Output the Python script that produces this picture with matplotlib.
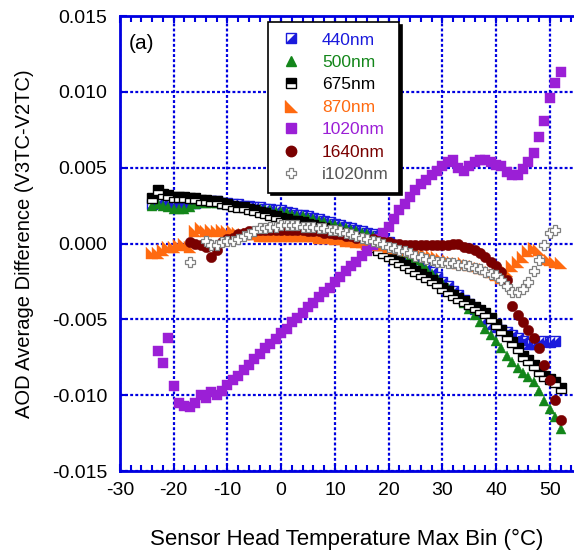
import numpy as np
import matplotlib
matplotlib.use("Agg")
import matplotlib.pyplot as plt
from matplotlib.lines import Line2D
from matplotlib.legend_handler import HandlerTuple
from matplotlib.ticker import MultipleLocator, FormatStrFormatter

plt.rcParams['font.family'] = ['Liberation Sans', 'DejaVu Sans']
plt.rcParams['axes.unicode_minus'] = False

# temperature bins (deg C) for each wavelength
t_440 = list(range(-24, 52))
t_500 = list(range(-24, 53))
t_675 = list(range(-24, 53))
t_870 = list(range(-24, 53))
t_1020 = list(range(-23, 53))
t_1640 = list(range(-17, 53))
t_i1020 = [-17] + list(range(-14, 52))

# AOD differences, in units of 0.001
d_440 = [2.6, 2.7, 2.7, 2.7, 2.7, 2.7, 2.7, 2.7, 2.7, 2.8,
         2.8, 2.8, 2.8, 2.7, 2.7, 2.6, 2.6, 2.5, 2.5, 2.4,
         2.4, 2.3, 2.3, 2.2, 2.2, 2.1, 2.0, 1.9, 1.9, 1.8,
         1.7, 1.6, 1.5, 1.4, 1.3, 1.2, 1.1, 1.0, 0.9, 0.8,
         0.7, 0.6, 0.5, 0.3, 0.1, -0.1, -0.3, -0.5, -0.8, -1.0,
         -1.3, -1.6, -1.9, -2.2, -2.5, -2.8, -3.1, -3.4, -3.7, -4.0,
         -4.3, -4.6, -5.0, -5.3, -5.5, -5.7, -5.8, -6.0, -6.2, -6.4,
         -6.6, -6.6, -6.5, -6.4, -6.5, -6.4]
d_500 = [2.5, 2.6, 2.5, 2.4, 2.3, 2.3, 2.3, 2.4, 2.6, 2.7,
         2.7, 2.7, 2.7, 2.6, 2.6, 2.5, 2.5, 2.4, 2.4, 2.3,
         2.3, 2.2, 2.2, 2.1, 2.1, 2.0, 1.9, 1.8, 1.8, 1.7,
         1.6, 1.5, 1.4, 1.3, 1.2, 1.1, 1.0, 0.9, 0.8, 0.7,
         0.6, 0.5, 0.4, 0.2, 0.0, -0.2, -0.4, -0.6, -0.9, -1.1,
         -1.4, -1.7, -2.0, -2.3, -2.6, -2.9, -3.2, -3.6, -3.9, -4.3,
         -4.7, -5.2, -5.6, -6.0, -6.4, -6.9, -7.4, -7.8, -8.2, -8.5,
         -8.8, -9.1, -9.7, -10.4, -10.9, -11.4, -12.2]
d_675 = [3.0, 3.5, 3.3, 3.2, 3.1, 3.1, 3.1, 3.0, 3.0, 2.9,
         2.9, 2.8, 2.8, 2.7, 2.6, 2.5, 2.4, 2.4, 2.3, 2.2,
         2.1, 2.0, 1.9, 1.8, 1.7, 1.6, 1.5, 1.5, 1.4, 1.3,
         1.2, 1.1, 1.0, 0.9, 0.8, 0.7, 0.6, 0.5, 0.4, 0.2,
         0.0, -0.2, -0.4, -0.6, -0.8, -1.0, -1.2, -1.4, -1.6, -1.8,
         -2.0, -2.2, -2.4, -2.6, -2.9, -3.1, -3.4, -3.6, -3.8, -4.0,
         -4.2, -4.4, -4.6, -4.9, -5.3, -5.7, -6.1, -6.5, -6.9, -7.4,
         -7.7, -8.0, -8.4, -8.7, -8.9, -9.1, -9.5]
d_870 = [-0.6, -0.6, -0.4, -0.2, -0.2, -0.1, 0.0, -0.2, 0.8, 1.0,
         0.8, 0.9, 0.8, 0.9, 0.8, 0.8, 0.7, 0.6, 0.6, 0.6,
         0.5, 0.5, 0.5, 0.5, 0.5, 0.5, 0.5, 0.5, 0.5, 0.5,
         0.5, 0.4, 0.4, 0.4, 0.3, 0.3, 0.2, 0.2, 0.1, 0.1,
         0.0, 0.0, -0.1, -0.1, -0.2, -0.3, -0.3, -0.4, -0.5, -0.5,
         -0.6, -0.7, -0.8, -0.9, -1.0, -1.1, -1.2, -1.3, -1.3, -1.4,
         -1.5, -1.6, -1.7, -1.9, -2.1, -2.3, -1.8, -1.5, -1.2, -0.9,
         -0.5, -0.3, -0.4, -1.0, -1.1, -1.2, -1.3]
d_1020 = [-7.1, -7.9, -6.2, -9.4, -10.5, -10.7, -10.8, -10.5, -10.0, -10.2,
          -9.8, -10.0, -9.7, -9.3, -9.0, -8.7, -8.3, -8.0, -7.6, -7.3,
          -6.9, -6.6, -6.3, -5.9, -5.6, -5.2, -4.9, -4.6, -4.2, -3.9,
          -3.5, -3.2, -2.9, -2.5, -2.2, -1.8, -1.5, -1.2, -0.8, -0.5,
          -0.1, 0.3, 0.7, 1.1, 1.6, 2.2, 2.6, 3.1, 3.5, 3.9,
          4.2, 4.5, 4.8, 5.1, 5.4, 5.5, 5.0, 4.8, 5.1, 5.4,
          5.5, 5.5, 5.4, 5.2, 5.1, 4.7, 4.5, 4.5, 4.9, 5.4,
          6.0, 7.0, 8.1, 9.6, 10.6, 11.3]
d_1640 = [0.1, 0.0, -0.1, -0.2, -0.9, -0.4, 0.1, 0.3, 0.4, 0.6,
          0.7, 0.8, 0.8, 0.9, 0.9, 0.9, 0.9, 0.9, 0.9, 0.9,
          0.9, 0.9, 0.8, 0.8, 0.8, 0.7, 0.7, 0.6, 0.6, 0.5,
          0.5, 0.4, 0.4, 0.3, 0.3, 0.2, 0.1, 0.1, 0.0, 0.0,
          -0.1, -0.1, -0.1, -0.1, -0.1, -0.1, -0.1, -0.1, -0.1, 0.0,
          0.0, -0.2, -0.3, -0.4, -0.6, -0.9, -1.2, -1.5, -1.9, -2.4,
          -4.1, -4.7, -5.2, -5.7, -6.2, -6.9, -8.0, -9.0, -10.3, -11.6]
d_i1020 = [-1.2,
           0.2, -0.1, -0.1, 0.1, 0.2, 0.2, 0.3, 0.5, 0.6, 0.8,
           1.0, 1.0, 1.1, 1.1, 1.2, 1.2, 1.2, 1.2, 1.1, 1.1,
           1.1, 1.0, 1.0, 0.9, 0.9, 0.8, 0.7, 0.6, 0.5, 0.4,
           0.3, 0.2, 0.1, 0.0, -0.2, -0.3, -0.4, -0.5, -0.6, -0.8,
           -0.9, -1.0, -1.1, -1.2, -1.2, -1.3, -1.3, -1.4, -1.4, -1.5,
           -1.6, -1.7, -1.9, -2.0, -2.1, -2.4, -2.8, -3.2, -3.2, -3.0,
           -2.5, -1.8, -1.1, -0.1, 0.7, 0.9]

c_440 = '#1a1adc'
c_500 = '#13861a'
c_675 = 'black'
c_870 = '#ff6a10'
c_1020 = '#9b1fd6'
c_1640 = '#7a0000'
c_i1020 = '#808080'
axis_blue = '#0000e0'

tri_lr = [(-1, -1), (1, -1), (1, 1)]   # lower-right half of a square
tri_ll = [(-1, 1), (-1, -1), (1, -1)]  # right triangle, corner bottom-left

fig = plt.figure(figsize=(5.74, 5.53), dpi=100)
ax = fig.add_axes([0.209, 0.148, 0.791, 0.823])

s = 1e-3
ax.plot(t_440, np.array(d_440) * s, ls='none', marker='s', ms=7.5, mfc='white', mec=c_440, mew=1)
ax.plot(t_440, np.array(d_440) * s, ls='none', marker=tri_lr, ms=7.5, color=c_440, mew=0.3)
ax.plot(t_500, np.array(d_500) * s, ls='none', marker='^', ms=7.5, color=c_500, mew=0.3)
ax.plot(t_675, np.array(d_675) * s, ls='none', marker='s', ms=7, fillstyle='top',
        mfc='black', markerfacecoloralt='white', mec='black', mew=1)
ax.plot(t_870, np.array(d_870) * s, ls='none', marker=tri_ll, ms=8, color=c_870, mew=0.3)
ax.plot(t_1020, np.array(d_1020) * s, ls='none', marker='s', ms=7.5, color=c_1020, mew=0.3)
ax.plot(t_1640, np.array(d_1640) * s, ls='none', marker='o', ms=7.5, color=c_1640, mew=0.3)
ax.plot(t_i1020, np.array(d_i1020) * s, ls='none', marker='P', ms=7.5, mfc='white', mec=c_i1020, mew=0.9)

ax.set_xlim(-30, 54.5)
ax.set_ylim(-0.015, 0.015)
ax.xaxis.set_major_locator(MultipleLocator(10))
ax.xaxis.set_minor_locator(MultipleLocator(2))
ax.yaxis.set_major_locator(MultipleLocator(0.005))
ax.yaxis.set_major_formatter(FormatStrFormatter('%.3f'))

ax.grid(True, which='major', color=axis_blue, linestyle=(0, (1.3, 1.0)), linewidth=1.6)
ax.set_axisbelow(True)
for side in ['left', 'bottom', 'top']:
    ax.spines[side].set_color(axis_blue)
    ax.spines[side].set_linewidth(2)
ax.spines['right'].set_visible(False)
ax.tick_params(axis='x', which='major', direction='in', top=True, length=5, width=1.5,
               color=axis_blue, labelsize=14, pad=8)
ax.tick_params(axis='x', which='minor', direction='in', top=True, length=4, width=1.5,
               color=axis_blue)
ax.tick_params(axis='y', which='major', direction='in', length=5, width=1.5,
               color=axis_blue, labelsize=14, pad=9)

ax.set_xlabel('Sensor Head Temperature Max Bin (°C)', fontsize=16, labelpad=21)
ax.set_ylabel('AOD Average Difference (V3TC-V2TC)', fontsize=14.5, labelpad=13)
ax.text(0.02, 0.96, '(a)', transform=ax.transAxes, fontsize=15, va='top', ha='left')

h440 = (Line2D([], [], ls='none', marker='s', ms=7.5, mfc='white', mec=c_440, mew=1),
        Line2D([], [], ls='none', marker=tri_lr, ms=7.5, color=c_440, mew=0.3))
h500 = Line2D([], [], ls='none', marker='^', ms=7.5, color=c_500)
h675 = Line2D([], [], ls='none', marker='s', ms=7, fillstyle='top', mfc='black',
              markerfacecoloralt='white', mec='black', mew=1)
h870 = Line2D([], [], ls='none', marker=tri_ll, ms=8, color=c_870)
h1020 = Line2D([], [], ls='none', marker='s', ms=7.5, color=c_1020)
h1640 = Line2D([], [], ls='none', marker='o', ms=7.5, color=c_1640)
hi1020 = Line2D([], [], ls='none', marker='P', ms=7.5, mfc='white', mec=c_i1020, mew=0.9)

labels = ['440nm', '500nm', '675nm', '870nm', '1020nm', '1640nm', 'i1020nm']
leg = ax.legend([h440, h500, h675, h870, h1020, h1640, hi1020], labels,
                handler_map={tuple: HandlerTuple(ndivide=1, pad=0)},
                loc='upper left', bbox_to_anchor=(0.326, 0.987), borderaxespad=0,
                fontsize=12.5, frameon=True, fancybox=False, framealpha=1,
                edgecolor='black', shadow={'color': 'black', 'alpha': 1},
                labelcolor=[c_440, c_500, 'black', c_870, c_1020, c_1640, '#555555'],
                handlelength=1.5, handletextpad=1.0, labelspacing=0.42,
                borderpad=0.6)
leg.get_frame().set_linewidth(1.2)

fig.savefig('out.png', dpi=100)
